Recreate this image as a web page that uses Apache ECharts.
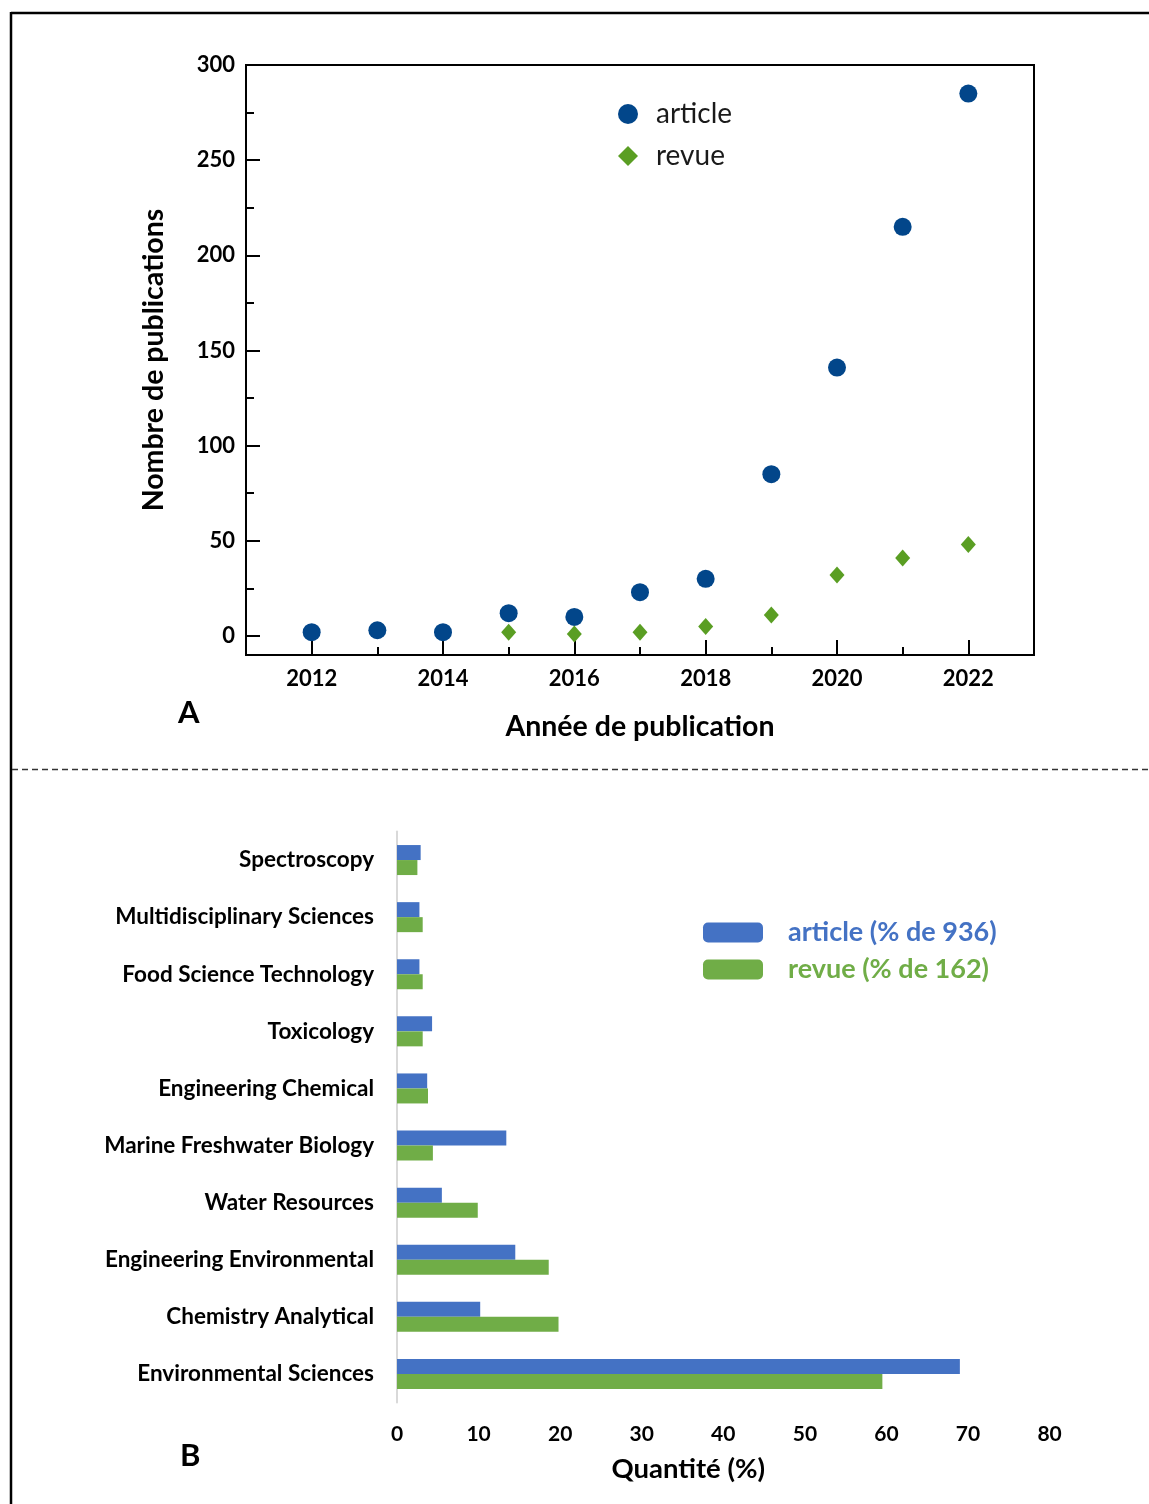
<!DOCTYPE html>
<html><head><meta charset="utf-8">
<script src="https://cdn.jsdelivr.net/npm/echarts@6/dist/echarts.min.js"></script>
<style>html,body{margin:0;padding:0;background:#fff;}#c{width:1149px;height:1504px;}</style>
</head><body><div id="c"></div>
<script>
// Panel A data
const years = [2012, 2013, 2014, 2015, 2016, 2017, 2018, 2019, 2020, 2021, 2022];
const articleCounts = [2, 3, 2, 12, 10, 23, 30, 85, 141, 215, 285];
const revueYears = [2015, 2016, 2017, 2018, 2019, 2020, 2021, 2022];
const revueCounts = [2, 1, 2, 5, 11, 32, 41, 48];
const yMajorTicks = [0, 50, 100, 150, 200, 250, 300];
const yMinorTicks = [25, 75, 125, 175, 225, 275];
const xMajorTicks = [2012, 2014, 2016, 2018, 2020, 2022];
const xMinorTicks = [2013, 2015, 2017, 2019, 2021];

// Panel B data (top to bottom)
const categories = ['Spectroscopy', 'Multidisciplinary Sciences', 'Food Science Technology', 'Toxicology',
  'Engineering Chemical', 'Marine Freshwater Biology', 'Water Resources', 'Engineering Environmental',
  'Chemistry Analytical', 'Environmental Sciences'];
const articlePct = [2.9, 2.75, 2.75, 4.3, 3.7, 13.4, 5.5, 14.5, 10.2, 69.0];
const revuePct = [2.5, 3.15, 3.15, 3.15, 3.8, 4.4, 9.9, 18.6, 19.8, 59.5];

const FONT = 'Lato';
const chart = echarts.init(document.getElementById('c'), null, {renderer: 'canvas'});

const art = years.map((y, i) => [y, articleCounts[i]]);
const rev = revueYears.map((y, i) => [y, revueCounts[i]]);

chart.setOption({
  backgroundColor: '#fff',
  animation: false,
  textStyle: {fontFamily: FONT},
  title: [
    {text: 'A', left: 178, top: 697, padding: 0, textStyle: {fontFamily: FONT, fontSize: 31, fontWeight: 'bold', color: '#000'}},
    {text: 'B', left: 180, top: 1440, padding: 0, textStyle: {fontFamily: FONT, fontSize: 31, fontWeight: 'bold', color: '#000'}}
  ],
  graphic: [
    {type: 'line', shape: {x1: 11, y1: 13, x2: 1149, y2: 13}, style: {stroke: '#000', lineWidth: 2.5}},
    {type: 'line', shape: {x1: 11, y1: 12, x2: 11, y2: 1504}, style: {stroke: '#000', lineWidth: 2.5}},
    {type: 'line', shape: {x1: 12, y1: 769.5, x2: 1149, y2: 769.5}, style: {stroke: '#333', lineWidth: 1.3, lineDash: [6, 4]}}
  ],
  legend: [
    {
      left: 618, top: 100, padding: 0, orient: 'vertical', itemWidth: 20, itemHeight: 20, itemGap: 14,
      data: [{name: 'article', icon: 'circle'}, {name: 'revue', icon: 'diamond'}],
      textStyle: {fontFamily: FONT, fontSize: 28, color: '#1a1a1a', padding: [0, 0, 0, 13]}
    },
    {
      left: 703, top: 919, padding: 0, orient: 'vertical', itemWidth: 60, itemHeight: 20, itemGap: 10,
      icon: 'roundRect',
      data: [
        {name: 'article (% de 936)', textStyle: {color: '#4472c4'}},
        {name: 'revue (% de 162)', textStyle: {color: '#70ad47'}}
      ],
      textStyle: {fontFamily: FONT, fontSize: 27, fontWeight: 'bold', padding: [0, 0, 0, 20]}
    }
  ],
  grid: [
    {left: 246, top: 65, width: 788, height: 590, show: true, borderColor: '#000', borderWidth: 2, backgroundColor: 'transparent'},
    {left: 397, top: 831.5, width: 652.6, height: 571}
  ],
  xAxis: [
    {
      gridIndex: 0, type: 'value', min: 2011, max: 2023, position: 'bottom',
      name: 'Année de publication', nameLocation: 'middle', nameGap: 57,
      nameTextStyle: {fontFamily: FONT, fontSize: 28.5, fontWeight: 'bold', color: '#000'},
      axisLine: {show: true, onZero: false, lineStyle: {color: '#000', width: 2}},
      axisTick: {show: true, inside: true, length: 15, customValues: xMajorTicks, lineStyle: {color: '#000', width: 2}},
      axisLabel: {customValues: xMajorTicks, formatter: v => String(v), margin: 13, fontFamily: FONT, fontSize: 22, fontWeight: 'bold', color: '#000'},
      splitLine: {show: false}
    },
    {
      gridIndex: 0, type: 'value', min: 2011, max: 2023, position: 'bottom', offset: 0,
      axisLine: {show: false, onZero: false},
      axisTick: {show: true, inside: true, length: 8, customValues: xMinorTicks, lineStyle: {color: '#000', width: 2}},
      axisLabel: {show: false},
      splitLine: {show: false}
    },
    {
      gridIndex: 1, type: 'value', min: 0, max: 80, interval: 10,
      name: 'Quantité (%)', nameLocation: 'middle', nameGap: 53,
      nameTextStyle: {fontFamily: FONT, fontSize: 27.5, fontWeight: 'bold', color: '#000', padding: [0, 70, 0, 0]},
      axisLine: {show: false}, axisTick: {show: false},
      axisLabel: {margin: 21, fontFamily: FONT, fontSize: 21, fontWeight: 'bold', color: '#000'},
      splitLine: {show: false}
    }
  ],
  yAxis: [
    {
      gridIndex: 0, type: 'value', min: -10, max: 300, position: 'left',
      name: 'Nombre de publications', nameLocation: 'middle', nameGap: 78,
      nameTextStyle: {fontFamily: FONT, fontSize: 28.5, fontWeight: 'bold', color: '#000'},
      axisLine: {show: true, onZero: false, lineStyle: {color: '#000', width: 2}},
      axisTick: {show: true, inside: true, length: 14, customValues: yMajorTicks, lineStyle: {color: '#000', width: 2}},
      axisLabel: {customValues: yMajorTicks, margin: 11, fontFamily: FONT, fontSize: 22, fontWeight: 'bold', color: '#000'},
      splitLine: {show: false}
    },
    {
      gridIndex: 0, type: 'value', min: -10, max: 300, position: 'left', offset: 0,
      axisLine: {show: false, onZero: false},
      axisTick: {show: true, inside: true, length: 8, customValues: yMinorTicks, lineStyle: {color: '#000', width: 2}},
      axisLabel: {show: false},
      splitLine: {show: false}
    },
    {
      gridIndex: 1, type: 'category', data: categories, inverse: true,
      axisLine: {show: true, lineStyle: {color: '#d9d9d9', width: 2}},
      axisTick: {show: false},
      axisLabel: {margin: 23, fontFamily: FONT, fontSize: 22.5, fontWeight: 'bold', color: '#000'},
      splitLine: {show: false}
    }
  ],
  series: [
    {name: 'article', type: 'scatter', xAxisIndex: 0, yAxisIndex: 0, data: art, symbol: 'circle', symbolSize: 18,
      itemStyle: {color: '#02468a', opacity: 1}},
    {name: 'revue', type: 'scatter', xAxisIndex: 0, yAxisIndex: 0, data: rev, symbol: 'diamond', symbolSize: [15, 17],
      itemStyle: {color: '#5a9e23', opacity: 1}},
    {name: 'article (% de 936)', type: 'bar', xAxisIndex: 2, yAxisIndex: 2, data: articlePct, barWidth: 15, barGap: '0%',
      itemStyle: {color: '#4472c4'}},
    {name: 'revue (% de 162)', type: 'bar', xAxisIndex: 2, yAxisIndex: 2, data: revuePct, barWidth: 15, barGap: '0%',
      itemStyle: {color: '#70ad47'}}
  ]
});
</script>
</body></html>
